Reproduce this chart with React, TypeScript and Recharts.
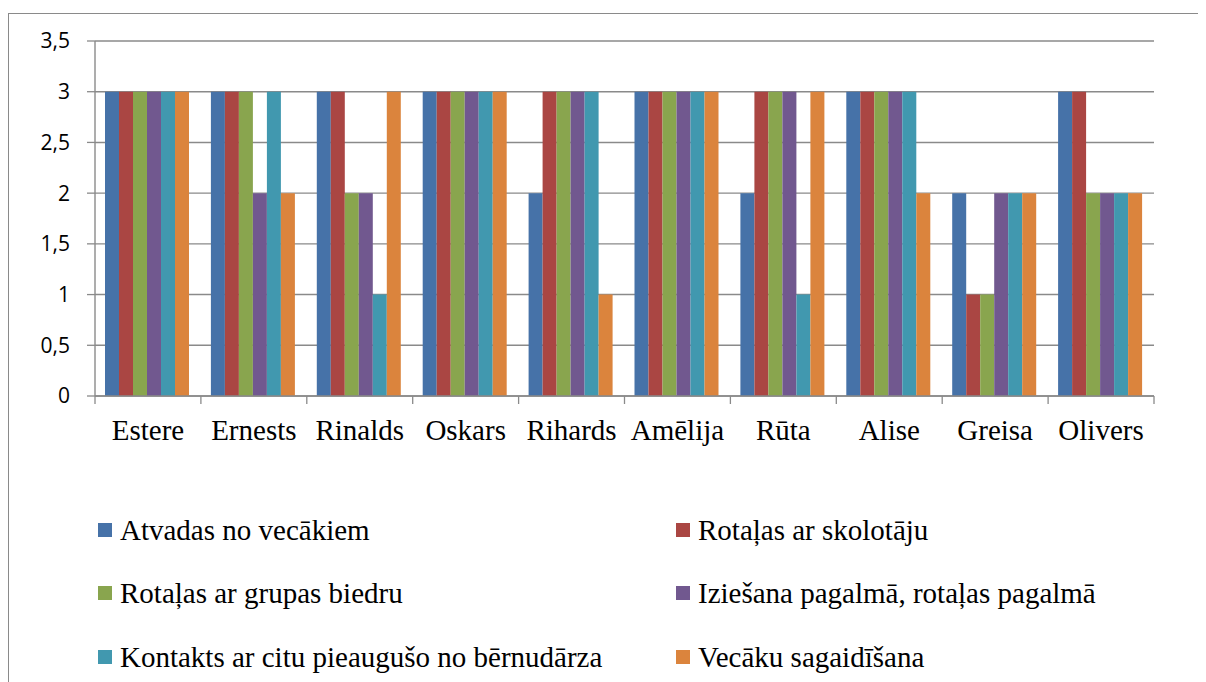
import { BarChart, Bar, XAxis, YAxis, CartesianGrid, Legend } from "recharts";

const children = ["Estere", "Ernests", "Rinalds", "Oskars", "Rihards", "Amēlija", "Rūta", "Alise", "Greisa", "Olivers"];

const seriesNames = [
  "Atvadas no vecākiem",
  "Rotaļas ar skolotāju",
  "Rotaļas ar grupas biedru",
  "Iziešana pagalmā, rotaļas pagalmā",
  "Kontakts ar citu pieaugušo no bērnudārza",
  "Vecāku sagaidīšana",
];

const atvadas = [3, 3, 3, 3, 2, 3, 2, 3, 2, 3];
const skolotajs = [3, 3, 3, 3, 3, 3, 3, 3, 1, 3];
const biedri = [3, 3, 2, 3, 3, 3, 3, 3, 1, 2];
const pagalms = [3, 2, 2, 3, 3, 3, 3, 3, 2, 2];
const kontakts = [3, 3, 1, 3, 3, 3, 1, 3, 2, 2];
const sagaidisana = [3, 2, 3, 3, 1, 3, 3, 2, 2, 2];

const yTicks = [0, 0.5, 1, 1.5, 2, 2.5, 3, 3.5];

const colors = ["#4672A8", "#AA4643", "#89A54E", "#71588F", "#4198AF", "#DB843D"];

const seriesValues = [atvadas, skolotajs, biedri, pagalms, kontakts, sagaidisana];
const keys = ["s0", "s1", "s2", "s3", "s4", "s5"];

const data = children.map((name, i) => {
  const row: Record<string, string | number> = { name };
  seriesValues.forEach((vals, s) => {
    row[keys[s]] = vals[i];
  });
  return row;
});

const W = 1198;
const H = 674;
const M = { top: 33, right: 52, left: 0, bottom: 0 };
const Y_W = 87;
const plotW = W - M.left - M.right - Y_W;
const band = plotW / children.length;

const serif = "'Liberation Serif', 'Times New Roman', serif";
const axisGray = "#8a8a8a";

function CategoryTick(props: any) {
  const { x, y, payload, index } = props;
  const left = x - band / 2;
  return (
    <g>
      <line x1={left} x2={left} y1={y} y2={y + 8} stroke={axisGray} strokeWidth={1.3} />
      {index === children.length - 1 && (
        <line x1={x + band / 2} x2={x + band / 2} y1={y} y2={y + 8} stroke={axisGray} strokeWidth={1.3} />
      )}
      <text x={x} y={y + 44} textAnchor="middle" fontFamily={serif} fontSize={29} fill="#000">
        {payload.value}
      </text>
    </g>
  );
}

function LegendBox() {
  return (
    <div
      style={{
        display: "grid",
        gridTemplateColumns: "578px 520px",
        paddingLeft: 90,
        fontFamily: serif,
        fontSize: 29,
        lineHeight: "32px",
        color: "#000",
      }}
    >
      {seriesNames.map((n, i) => (
        <div key={n} style={{ height: 63.5, display: "flex", alignItems: "center", whiteSpace: "nowrap" }}>
          <span style={{ width: 14, height: 14, background: colors[i], marginRight: 8, flex: "none" }} />
          <span>{n}</span>
        </div>
      ))}
    </div>
  );
}

export default function App() {
  return (
    <div style={{ position: "relative", width: W, height: H, background: "#fff" }}>
      <div
        style={{
          position: "absolute",
          left: 0,
          top: 5,
          width: W + 10,
          height: H,
          borderTop: `1px solid ${axisGray}`,
          borderLeft: `1px solid ${axisGray}`,
        }}
      />
      <div style={{ position: "absolute", left: 0, top: 0 }}>
        <BarChart width={W} height={H} data={data} margin={M} barGap={0} barCategoryGap={10}>
          <CartesianGrid vertical={false} stroke={axisGray} strokeWidth={1.4} />
          <XAxis
            dataKey="name"
            height={286}
            tick={<CategoryTick />}
            tickLine={false}
            tickSize={0}
            tickMargin={0}
            interval={0}
            axisLine={{ stroke: axisGray, strokeWidth: 1.4 }}
          />
          <YAxis
            width={Y_W}
            domain={[0, 3.5]}
            ticks={yTicks}
            interval={0}
            tickSize={8}
            tickMargin={17}
            tickLine={{ stroke: axisGray, strokeWidth: 1.3 }}
            axisLine={{ stroke: axisGray, strokeWidth: 1.4 }}
            tickFormatter={(v: number) => String(v).replace(".", ",")}
            tick={{ fontFamily: "'Open Sans', sans-serif", fontSize: 21, fill: "#000" }}
          />
          <Legend
            content={<LegendBox />}
            wrapperStyle={{ position: "absolute", left: 0, top: 490, width: W, height: 0, overflow: "visible" }}
          />
          {keys.map((k, i) => (
            <Bar key={k} dataKey={k} name={seriesNames[i]} fill={colors[i]} isAnimationActive={false} />
          ))}
        </BarChart>
      </div>
    </div>
  );
}
